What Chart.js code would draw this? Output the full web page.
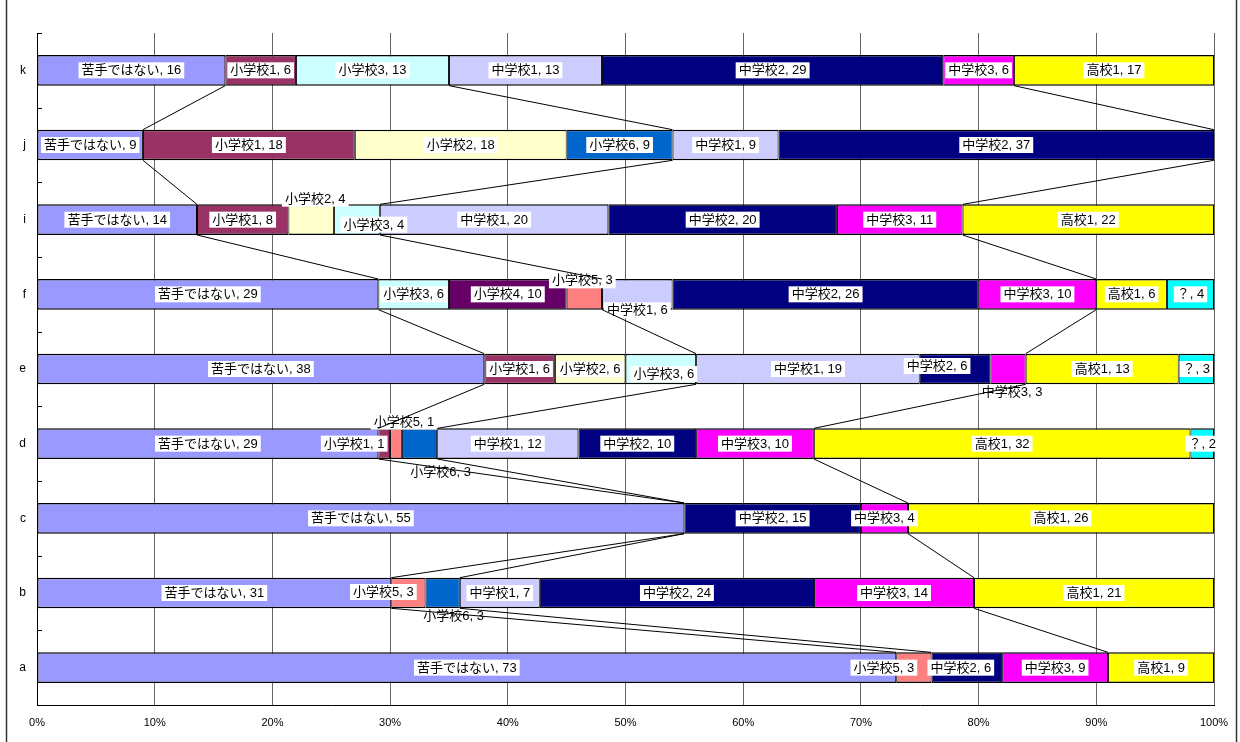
<!DOCTYPE html>
<html lang="ja">
<head>
<meta charset="utf-8">
<title>苦手ではない / 学校段階別</title>
<script src="https://cdn.jsdelivr.net/npm/chart.js@4/dist/chart.umd.min.js"></script>
<style>
  html, body { margin: 0; padding: 0; background: #fff; }
  #wrap { width: 1240px; height: 742px; }
</style>
</head>
<body>
<div id="wrap"><canvas id="chart" width="1240" height="742"></canvas></div>
<script>
// カテゴリ（上から順）
const categories = ['k', 'j', 'i', 'f', 'e', 'd', 'c', 'b', 'a'];

// 系列名
const seriesNames = ['苦手ではない', '小学校1', '小学校2', '小学校3', '小学校4', '小学校5',
    '小学校6', '中学校1', '中学校2', '中学校3', '高校1', '？'];

// 各系列の値（k, j, i, f, e, d, c, b, a）
const notWeak = [16, 9, 14, 29, 38, 29, 55, 31, 73];
const elem1   = [6, 18, 8, null, 6, 1, null, null, null];
const elem2   = [null, 18, 4, null, 6, null, null, null, null];
const elem3   = [13, null, 4, 6, 6, null, null, null, null];
const elem4   = [null, null, null, 10, null, null, null, null, null];
const elem5   = [null, null, null, 3, null, 1, null, 3, 3];
const elem6   = [null, 9, null, null, null, 3, null, 3, null];
const junior1 = [13, 9, 20, 6, 19, 12, null, 7, null];
const junior2 = [29, 37, 20, 26, 6, 10, 15, 24, 6];
const junior3 = [6, null, 11, 10, 3, 10, 4, 14, 9];
const high1   = [17, null, 22, 6, 13, 32, 26, 21, 9];
const unknown = [null, null, null, 4, 3, 2, null, null, null];

// 目盛ラベル
const xTickLabels = ['0%', '10%', '20%', '30%', '40%', '50%', '60%', '70%', '80%', '90%', '100%'];

const seriesValues = [notWeak, elem1, elem2, elem3, elem4, elem5, elem6,
    junior1, junior2, junior3, high1, unknown];

const seriesColors = ['#9999FF', '#993366', '#FFFFCC', '#CCFFFF', '#660066', '#FF8080',
    '#0066CC', '#CCCCFF', '#000080', '#FF00FF', '#FFFF00', '#00FFFF'];

// 区切り線を引く系列（苦手ではない / 小学校6 / 中学校3 の終端）
const dividerSeries = [0, 6, 9];

// 重なったラベルのずらし量 [dx, dy]
const labelNudge = {
    'i|小学校2': [4, -21], 'i|小学校3': [17, 5],
    'f|小学校5': [-2, -14], 'f|中学校1': [0, 16],
    'e|小学校3': [3, 5], 'e|中学校2': [-18, -3], 'e|中学校3': [4, 23],
    'd|小学校1': [-30, 0], 'd|小学校5': [8, -22], 'd|小学校6': [21, 28],
    'b|小学校5': [-25, -1], 'b|小学校6': [11, 23],
    'a|小学校5': [-30, 0], 'a|中学校2': [-6, 0]
};

const FONT_FAMILY = '"Liberation Sans", "Noto Sans CJK JP", sans-serif';

(() => {
    // 合計（100%換算用）
    const totals = categories.map((_, ci) =>
        seriesValues.reduce((s, arr) => s + (arr[ci] || 0), 0));

    const toPercent = arr => arr.map((v, ci) => v == null ? null : v / totals[ci] * 100);

    const cumulative = (si, ci) => {
        let s = 0;
        for (let k = 0; k <= si; k++) s += seriesValues[k][ci] || 0;
        return s / totals[ci] * 100;
    };

    // ラベル描画
    const drawLabels = chart => {
        const ctx = chart.ctx;
        ctx.save();
        ctx.font = `13px ${FONT_FAMILY}`;
        ctx.textAlign = 'center';
        ctx.textBaseline = 'middle';
        chart.data.datasets.forEach((ds, si) => {
            const meta = chart.getDatasetMeta(si);
            meta.data.forEach((bar, ci) => {
                const raw = seriesValues[si][ci];
                if (raw == null) return;
                const text = `${seriesNames[si]}, ${raw}`;
                const nudge = labelNudge[`${categories[ci]}|${seriesNames[si]}`] || [0, 0];
                const p = bar.getProps(['x', 'y', 'base'], true);
                const cx = (p.x + p.base) / 2 + nudge[0];
                const cy = p.y + nudge[1];
                const w = ctx.measureText(text).width + 6;
                ctx.fillStyle = '#fff';
                ctx.fillRect(cx - w / 2, cy - 8, w, 16);
                ctx.fillStyle = '#000';
                ctx.fillText(text, cx, cy + 0.5);
            });
        });
        ctx.restore();
    };

    // 区切り線
    const drawDividers = chart => {
        const ctx = chart.ctx;
        const xs = chart.scales.x;
        const bars = chart.getDatasetMeta(0).data;
        ctx.save();
        ctx.strokeStyle = '#000';
        ctx.lineWidth = 1;
        for (let ci = 0; ci < categories.length - 1; ci++) {
            const up = bars[ci].getProps(['y', 'height'], true);
            const low = bars[ci + 1].getProps(['y', 'height'], true);
            dividerSeries.forEach(si => {
                ctx.beginPath();
                ctx.moveTo(xs.getPixelForValue(cumulative(si, ci)), up.y + up.height / 2);
                ctx.lineTo(xs.getPixelForValue(cumulative(si, ci + 1)), low.y - low.height / 2);
                ctx.stroke();
            });
        }
        ctx.restore();
    };

    // 縦軸の内向き目盛
    const drawAxisTicks = chart => {
        const ctx = chart.ctx;
        const ys = chart.scales.y;
        const band = ys.height / categories.length;
        ctx.save();
        ctx.strokeStyle = '#000';
        ctx.lineWidth = 1;
        for (let i = 0; i <= categories.length; i++) {
            const y = Math.round(ys.top + i * band) + 0.5;
            ctx.beginPath();
            ctx.moveTo(chart.chartArea.left, y);
            ctx.lineTo(chart.chartArea.left + 5, y);
            ctx.stroke();
        }
        ctx.restore();
    };

    const overlayPlugin = {
        id: 'overlay',
        afterDatasetsDraw(chart) {
            drawLabels(chart);
            drawDividers(chart);
            drawAxisTicks(chart);
        },
        afterDraw(chart) {
            // 外枠（左右）
            const ctx = chart.ctx;
            ctx.save();
            ctx.strokeStyle = '#333';
            ctx.lineWidth = 1.5;
            ctx.beginPath();
            ctx.moveTo(6.5, 0); ctx.lineTo(6.5, 742);
            ctx.moveTo(1236.5, 0); ctx.lineTo(1236.5, 742);
            ctx.stroke();
            ctx.restore();
        }
    };

    const datasets = seriesNames.map((name, si) => ({
        label: name,
        data: toPercent(seriesValues[si]),
        backgroundColor: seriesColors[si],
        borderColor: '#000',
        borderWidth: { top: 1.5, bottom: 1.5, left: 1, right: 1 },
        borderSkipped: false,
        categoryPercentage: 1,
        barPercentage: 0.41
    }));

    new Chart(document.getElementById('chart'), {
        type: 'bar',
        data: { labels: categories, datasets },
        options: {
            indexAxis: 'y',
            responsive: false,
            devicePixelRatio: 1,
            animation: false,
            layout: { padding: { top: 33, right: 26, left: 0, bottom: 0 } },
            plugins: { legend: { display: false }, tooltip: { enabled: false } },
            scales: {
                x: {
                    stacked: true,
                    min: 0,
                    max: 100,
                    ticks: {
                        stepSize: 10,
                        padding: 11,
                        color: '#000',
                        font: { family: FONT_FAMILY, size: 11 },
                        callback: (v, i) => xTickLabels[i]
                    },
                    grid: { color: '#666', drawTicks: false },
                    border: { color: '#000' },
                    afterFit: scale => { scale.height = 37; }
                },
                y: {
                    stacked: true,
                    ticks: {
                        padding: 3,
                        color: '#000',
                        font: { family: FONT_FAMILY, size: 12 }
                    },
                    grid: { display: false },
                    border: { display: true, color: '#000' },
                    afterFit: scale => { scale.width = 37; }
                }
            }
        },
        plugins: [overlayPlugin]
    });
})();
</script>
</body>
</html>
